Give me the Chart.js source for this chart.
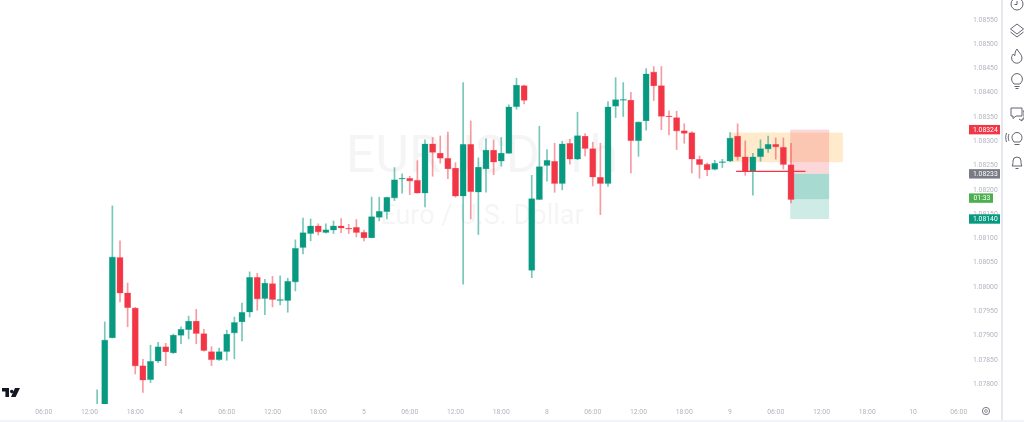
<!DOCTYPE html>
<html>
<head>
<meta charset="utf-8">
<title>EURUSD, 1h</title>
<script src="https://cdn.jsdelivr.net/npm/chart.js@4/dist/chart.umd.min.js"></script>
<style>
  html, body { margin: 0; padding: 0; background: #fff; overflow: hidden; }
  #wrap { position: relative; width: 1024px; height: 422px; }
  #chart { position: absolute; left: 0; top: 0; }
  #sideLine { position: absolute; left: 1001px; top: 0; width: 2px; height: 420px; background: #e6e8f0; }
  #bottomLine { position: absolute; left: 0; top: 420px; width: 1024px; height: 2px; background: #f0f3fa; }
  #toolbar, #gear, #logo { position: absolute; }
</style>
</head>
<body>
<div id="wrap">
  <canvas id="chart" width="1002" height="422"></canvas>
  <div id="sideLine"></div>
  <div id="bottomLine"></div>
  <svg id="logo" style="left:2px;top:387px" width="18" height="11" viewBox="0 0 18 11">
    <path d="M0 1h7v9H3.400V4.400H0z M8 4.500a1.700 1.700 0 1 0 0-.01z M13 1h5l-4.400 9H9z" fill="#131722"/>
  </svg>
  <svg id="gear" style="left:981px;top:406px" width="10" height="10" viewBox="0 0 10 10">
    <circle cx="5" cy="5" r="3.600" fill="none" stroke="#787b86" stroke-width="1"/>
    <circle cx="5" cy="5" r="1.400" fill="none" stroke="#787b86" stroke-width="0.8"/>
  </svg>
  <svg id="toolbar" style="left:1003px;top:0" width="21" height="175" viewBox="0 0 21 175" fill="none" stroke="#50535e" stroke-width="0.9">
    <circle cx="14" cy="4" r="6"/><path d="M14 1v3.500h-2.500"/>
    <path d="M14 24l6.500 5-6.500 5-6.500-5z"/><path d="M7.500 32l6.500 5 6.500-5"/>
    <path d="M14 49c1 3 5 5 5 9a5.200 5.200 0 0 1-10.400 0c0-2 1-3 1.700-4 .4 1 1 1.400 1.600 1.600 0-2.600.4-4.600 2.100-6.600z"/>
    <path d="M11 84c-1-1.500-2.400-2.500-2.400-5a5.400 5.400 0 0 1 10.800 0c0 2.500-1.400 3.500-2.400 5z"/><path d="M11.500 86.500h5M12.500 88.500h3"/>
    <path d="M8 108h11v8H13l-3 2.500V116H8z"/><path d="M20 111h1v8h-2v2l-3-2"/>
    <path d="M11 142c-1-1.500-2-2.500-2-4.500a5 5 0 0 1 10 0c0 2-1 3-2 4.500z"/><path d="M11.500 144.500h5"/><path d="M6 134c-1 2-1 5 0 7M3.500 133c-1 3-1 6 0 9"/>
    <path d="M9 166c1-1 1-3 1-5a4 4 0 0 1 8 0c0 2 0 4 1 5z"/><path d="M12.500 168.500h3"/>
  </svg>
</div>
<script>
const hours = [13,14,15,16,17,18,19,20,21,22,23,24,25,26,27,28,29,30,31,32,33,34,35,36,37,38,39,40,41,42,43,44,45,46,47,48,49,50,51,52,53,54,55,56,57,58,59,60,61,62,63,64,65,66,67,68,69,70,71,72,73,74,75,76,77,78,79,80,81,82,83,84,85,86,87,88,89,90,91,92,93,94,95,96,97,98,99,100,101,102,103,104];

const opens = [1.07700,1.07752,1.07895,1.08061,1.07988,1.07957,1.07838,1.07809,1.07847,1.07877,1.07864,1.07900,1.07912,1.07930,1.07904,1.07867,1.07850,1.07867,1.07905,1.07928,1.07948,1.08020,1.07976,1.08007,1.07972,1.07972,1.08010,1.08081,1.08110,1.08126,1.08112,1.08117,1.08126,1.08121,1.08123,1.08113,1.08101,1.08143,1.08155,1.08183,1.08222,1.08224,1.08220,1.08193,1.08295,1.08276,1.08265,1.08245,1.08187,1.08294,1.08195,1.08243,1.08282,1.08259,1.08275,1.08371,1.08415,1.08034,1.08180,1.08250,1.08259,1.08213,1.08296,1.08263,1.08311,1.08285,1.08226,1.08213,1.08372,1.08384,1.08385,1.08301,1.08342,1.08443,1.08415,1.08352,1.08349,1.08322,1.08318,1.08263,1.08253,1.08242,1.08256,1.08259,1.08311,1.08268,1.08238,1.08268,1.08284,1.08294,1.08288,1.08252];
const highs = [1.07788,1.07928,1.08167,1.08095,1.08008,1.07958,1.07851,1.07880,1.07886,1.07884,1.07903,1.07918,1.07940,1.07954,1.07913,1.07877,1.07874,1.07911,1.07938,1.07967,1.08031,1.08028,1.08016,1.08022,1.08023,1.08018,1.08097,1.08142,1.08140,1.08130,1.08130,1.08136,1.08141,1.08129,1.08139,1.08117,1.08185,1.08185,1.08185,1.08246,1.08233,1.08228,1.08260,1.08303,1.08308,1.08311,1.08319,1.08256,1.08421,1.08342,1.08266,1.08305,1.08303,1.08308,1.08375,1.08430,1.08416,1.08230,1.08331,1.08283,1.08296,1.08300,1.08304,1.08360,1.08316,1.08298,1.08296,1.08382,1.08431,1.08421,1.08401,1.08340,1.08450,1.08454,1.08454,1.08363,1.08362,1.08336,1.08320,1.08270,1.08255,1.08261,1.08263,1.08318,1.08336,1.08301,1.08275,1.08303,1.08311,1.08307,1.08307,1.08296];
const lows = [1.07690,1.07740,1.07895,1.07969,1.07918,1.07821,1.07783,1.07803,1.07844,1.07838,1.07863,1.07883,1.07893,1.07883,1.07868,1.07838,1.07849,1.07849,1.07852,1.07889,1.07938,1.07952,1.07943,1.07959,1.07963,1.07948,1.07992,1.08068,1.08095,1.08107,1.08111,1.08110,1.08112,1.08110,1.08103,1.08095,1.08101,1.08136,1.08140,1.08178,1.08193,1.08190,1.08193,1.08165,1.08228,1.08255,1.08223,1.08185,1.08006,1.08140,1.08108,1.08195,1.08231,1.08249,1.08275,1.08366,1.08377,1.08019,1.08180,1.08218,1.08195,1.08200,1.08253,1.08262,1.08270,1.08208,1.08149,1.08207,1.08349,1.08351,1.08235,1.08269,1.08323,1.08384,1.08324,1.08313,1.08283,1.08296,1.08235,1.08224,1.08229,1.08241,1.08246,1.08258,1.08261,1.08230,1.08189,1.08259,1.08277,1.08263,1.08243,1.08173];
const closes = [1.07752,1.07891,1.08062,1.07987,1.07957,1.07837,1.07808,1.07847,1.07877,1.07866,1.07901,1.07913,1.07930,1.07904,1.07869,1.07850,1.07867,1.07903,1.07927,1.07948,1.08020,1.07975,1.08008,1.07974,1.07973,1.08012,1.08080,1.08112,1.08126,1.08113,1.08118,1.08126,1.08121,1.08119,1.08112,1.08101,1.08145,1.08156,1.08185,1.08221,1.08224,1.08218,1.08193,1.08295,1.08277,1.08265,1.08243,1.08187,1.08294,1.08196,1.08247,1.08282,1.08257,1.08276,1.08371,1.08416,1.08384,1.08182,1.08248,1.08261,1.08213,1.08295,1.08263,1.08312,1.08285,1.08226,1.08213,1.08371,1.08386,1.08386,1.08301,1.08340,1.08439,1.08414,1.08351,1.08350,1.08321,1.08316,1.08263,1.08252,1.08241,1.08255,1.08258,1.08307,1.08268,1.08238,1.08268,1.08285,1.08294,1.08288,1.08252,1.08180];

const timeLabels = ['06:00','12:00','18:00','4','06:00','12:00','18:00','5','06:00','12:00','18:00','8','06:00','12:00','18:00','9','06:00','12:00','18:00','10','06:00'];

// position tool drawn on the last candles: [from hour, to hour, top price, bottom price]
const entryZone = [96, 110.8, 1.08318, 1.08257];
const stopBox = [103.9, 109, 1.08324, 1.08233];
const targetBox = [103.9, 109, 1.08233, 1.08140];
const filledBox = [103.9, 109, 1.08233, 1.08181];
const avgLine = [96.8, 105.9, 1.08238];

const priceTags = [
  { text: '1.08324', price: 1.08324, color: '#f23645', wide: true },
  { text: '1.08233', price: 1.08233, color: '#787b86', wide: true },
  { text: '01:33', price: 1.08183, color: '#4caf50', wide: false },
  { text: '1.08140', price: 1.08140, color: '#089981', wide: true }
];

const UP = '#089981';
const DOWN = '#f23645';
const isUp = i => closes[i] >= opens[i];
const FONT = 'Roboto, Arial, sans-serif';

const drawings = {
  id: 'drawings',
  beforeDatasetsDraw(chart) {
    const { ctx, scales: { x, y } } = chart;

    // watermark
    ctx.save();
    ctx.textAlign = 'center';
    ctx.textBaseline = 'middle';
    ctx.fillStyle = 'rgba(19,23,34,0.045)';
    ctx.font = '52px ' + FONT;
    ctx.fillText('EURUSD, 1h', 482, 159);
    ctx.font = '27px ' + FONT;
    ctx.fillText('Euro / U.S. Dollar', 482, 217);
    ctx.restore();

    const box = (b, color) => {
      const x0 = x.getPixelForValue(b[0]);
      const x1 = x.getPixelForValue(b[1]);
      const y0 = y.getPixelForValue(b[2]);
      const y1 = y.getPixelForValue(b[3]);
      ctx.fillStyle = color;
      ctx.fillRect(x0, y0, x1 - x0, y1 - y0);
    };
    box(entryZone, 'rgba(255,152,0,0.2)');
    box(stopBox, 'rgba(242,54,69,0.2)');
    box(targetBox, 'rgba(8,153,129,0.2)');
    box(filledBox, 'rgba(8,153,129,0.2)');
  },
  afterDatasetsDraw(chart) {
    const { ctx, scales: { x, y } } = chart;

    ctx.strokeStyle = DOWN;
    ctx.lineWidth = 1.2;
    ctx.beginPath();
    ctx.moveTo(x.getPixelForValue(avgLine[0]), y.getPixelForValue(avgLine[2]));
    ctx.lineTo(x.getPixelForValue(avgLine[1]), y.getPixelForValue(avgLine[2]));
    ctx.stroke();

    ctx.font = '6.8px ' + FONT;
    ctx.textBaseline = 'middle';
    for (const tag of priceTags) {
      const cy = y.getPixelForValue(tag.price);
      ctx.fillStyle = tag.color;
      ctx.fillRect(969, cy - 4.7, tag.wide ? 31 : 24, 9.4);
      ctx.fillStyle = '#fff';
      ctx.textAlign = 'left';
      ctx.fillText(tag.text, tag.wide ? 973 : 973.5, cy + 0.3);
    }
  }
};

// keep the plot area edge to edge, the first and last tick labels must not push it in
const noPadding = s => {
  s.paddingLeft = 0;
  s.paddingRight = 0;
  s.paddingTop = 0;
  s.paddingBottom = 0;
};

new Chart(document.getElementById('chart'), {
  type: 'bar',
  data: {
    datasets: [
      {
        // wicks
        data: hours.map((h, i) => ({ x: h, y: [lows[i], highs[i]] })),
        backgroundColor: hours.map((h, i) => isUp(i) ? 'rgba(8,153,129,0.55)' : 'rgba(242,54,69,0.5)'),
        barThickness: 1,
        order: 2
      },
      {
        // bodies
        data: hours.map((h, i) => ({ x: h, y: [opens[i], closes[i]] })),
        backgroundColor: hours.map((h, i) => isUp(i) ? UP : DOWN),
        borderColor: hours.map((h, i) => isUp(i) ? 'rgba(8,153,129,0.45)' : 'rgba(242,54,69,0.45)'),
        borderWidth: 0.6,
        borderSkipped: false,
        barThickness: 6.4,
        minBarLength: 1.2,
        order: 1
      }
    ]
  },
  options: {
    responsive: false,
    animation: false,
    grouped: false,
    events: [],
    layout: { padding: 0 },
    plugins: { legend: { display: false }, tooltip: { enabled: false } },
    scales: {
      x: {
        type: 'linear',
        offset: false,
        min: 0.262,
        max: 126.82,
        border: { display: false },
        grid: { display: false, drawTicks: false },
        afterFit: s => { s.height = 18; noPadding(s); },
        ticks: {
          stepSize: 6,
          includeBounds: false,
          autoSkip: false,
          maxRotation: 0,
          padding: 4,
          color: '#b2b5be',
          font: { size: 6.8, family: FONT },
          callback: v => timeLabels[v / 6 - 1]
        }
      },
      y: {
        position: 'right',
        min: 1.07759,
        max: 1.08591,
        border: { display: false },
        grid: { display: false, drawTicks: false },
        afterFit: s => { s.width = 37; noPadding(s); },
        ticks: {
          stepSize: 0.0005,
          includeBounds: false,
          padding: 8,
          color: '#b2b5be',
          font: { size: 6.8, family: FONT },
          callback: v => v.toFixed(5)
        }
      }
    }
  },
  plugins: [drawings]
});
</script>
</body>
</html>
